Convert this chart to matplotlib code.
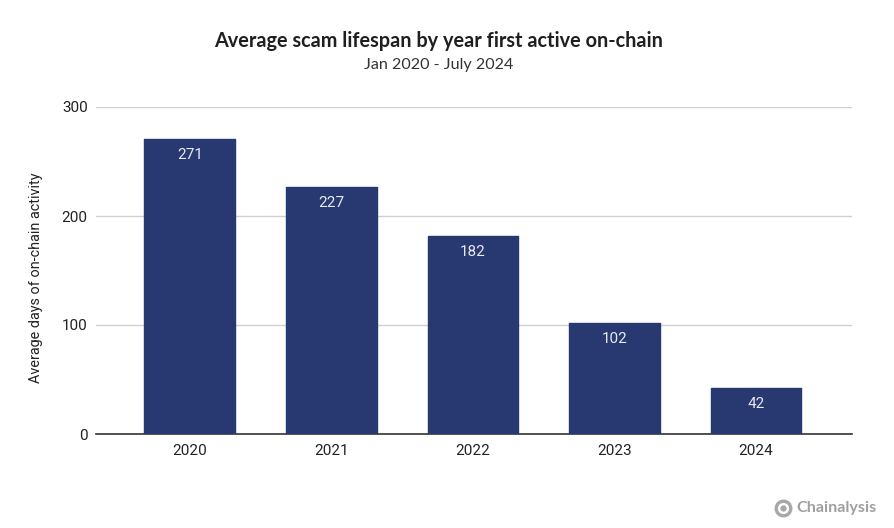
import matplotlib
matplotlib.use("Agg")
import matplotlib.pyplot as plt
from matplotlib.lines import Line2D

years = ["2020", "2021", "2022", "2023", "2024"]
days = [271, 227, 182, 102, 42]
yticks = [0, 100, 200, 300]

plt.rcParams['font.family'] = ['Roboto', 'DejaVu Sans']

fig = plt.figure(figsize=(8.95, 5.28), dpi=100)
ax = fig.add_axes([96 / 895, 1 - 434 / 528, (852 - 96) / 895, (434 - 107) / 528])

# thin round edge gives the slightly soft bar corners
ax.bar(years, days, width=0.64, color="#283870", edgecolor="#283870", linewidth=1,
       joinstyle="round", zorder=3)
for i, d in enumerate(days):
    ax.annotate(str(d), (i, d), xytext=(0, -11.5), textcoords="offset points",
                ha="center", va="center", color="#e8eaf2", fontsize=11, zorder=4)

ax.set_ylim(0, 300)
ax.set_xlim(-0.662, 4.678)
ax.set_yticks(yticks)
ax.grid(axis="y", color="#d0d0d0", linewidth=1, zorder=0)
ax.tick_params(axis="both", length=0, labelsize=11, colors="#222222")
ax.tick_params(axis="x", pad=7)
ax.tick_params(axis="y", pad=6)
for s in ["top", "left", "right"]:
    ax.spines[s].set_visible(False)
ax.spines["bottom"].set_color("#333333")
ax.spines["bottom"].set_linewidth(1.2)
ax.set_ylabel("Average days of on-chain activity", fontsize=10.4, color="#222222")
ax.yaxis.set_label_coords((43 - 96) / 756, 0.477)

fig.text(439 / 895, 1 - 41 / 528, "Average scam lifespan by year first active on-chain",
         ha="center", va="center", family="Lato", fontweight="bold", fontsize=14.3, color="#1f1f1f")
fig.text(439 / 895, 1 - 65 / 528, "Jan 2020 - July 2024",
         ha="center", va="center", family="Lato", fontsize=11.6, color="#333333")

# logo mark: grey ring with a dot, not the real glyph
fig.add_artist(Line2D([783 / 895], [1 - 508 / 528], marker="o", markersize=10.5,
                      markerfacecolor="none", markeredgecolor="#a8a8a8", markeredgewidth=2.4,
                      transform=fig.transFigure))
fig.add_artist(Line2D([783 / 895], [1 - 508 / 528], marker="o", markersize=3.5,
                      color="#a8a8a8", transform=fig.transFigure))
fig.text(796 / 895, 1 - 508 / 528, "Chainalysis", ha="left", va="center",
         family="Lato", fontweight="bold", fontsize=11.6, color="#a0a0a0")

fig.savefig("out.png", dpi=100)
